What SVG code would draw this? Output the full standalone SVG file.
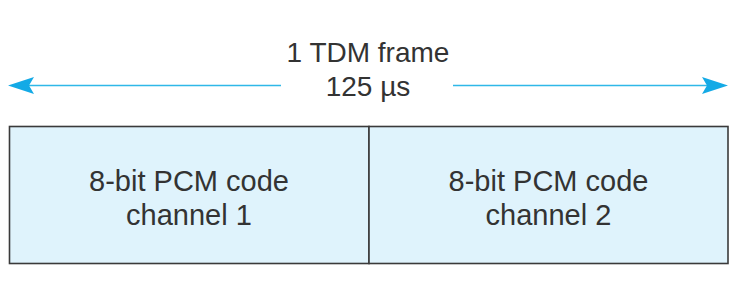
<svg xmlns="http://www.w3.org/2000/svg" width="752" height="290" viewBox="0 0 752 290">
  <style>
    .lbl { font-family: "Liberation Sans", Arial, Helvetica, sans-serif; font-size: 29px; fill: #333333; text-anchor: middle; }
    .top { font-size: 28px; }
    .cell { fill: #dff3fc; stroke: #3a3a3a; stroke-width: 1.6; }
    .dim { stroke: #2fb8e8; stroke-width: 1.6; fill: none; }
    .head { fill: #14aae6; }
  </style>
  <rect width="752" height="290" fill="#ffffff"/>
  <g id="frame-label">
    <text class="lbl top" x="368" y="62">1 TDM frame</text>
    <text class="lbl top" x="368" y="96">125 µs</text>
  </g>
  <g id="connectors">
    <line class="dim" x1="281" y1="85.5" x2="28" y2="85.5"/>
    <polygon class="head" points="8,85.5 34,77 29,85.5 34,94"/>
    <line class="dim" x1="453" y1="85.5" x2="707" y2="85.5"/>
    <polygon class="head" points="728,85.5 702,77 707,85.5 702,94"/>
  </g>
  <g id="channel1">
    <rect class="cell" x="9.5" y="126.5" width="359.5" height="137"/>
    <text class="lbl" x="189" y="191">8-bit PCM code</text>
    <text class="lbl" x="189" y="225">channel 1</text>
  </g>
  <g id="channel2">
    <rect class="cell" x="369" y="126.5" width="359" height="137"/>
    <text class="lbl" x="548.5" y="191">8-bit PCM code</text>
    <text class="lbl" x="548.5" y="225">channel 2</text>
  </g>
</svg>
